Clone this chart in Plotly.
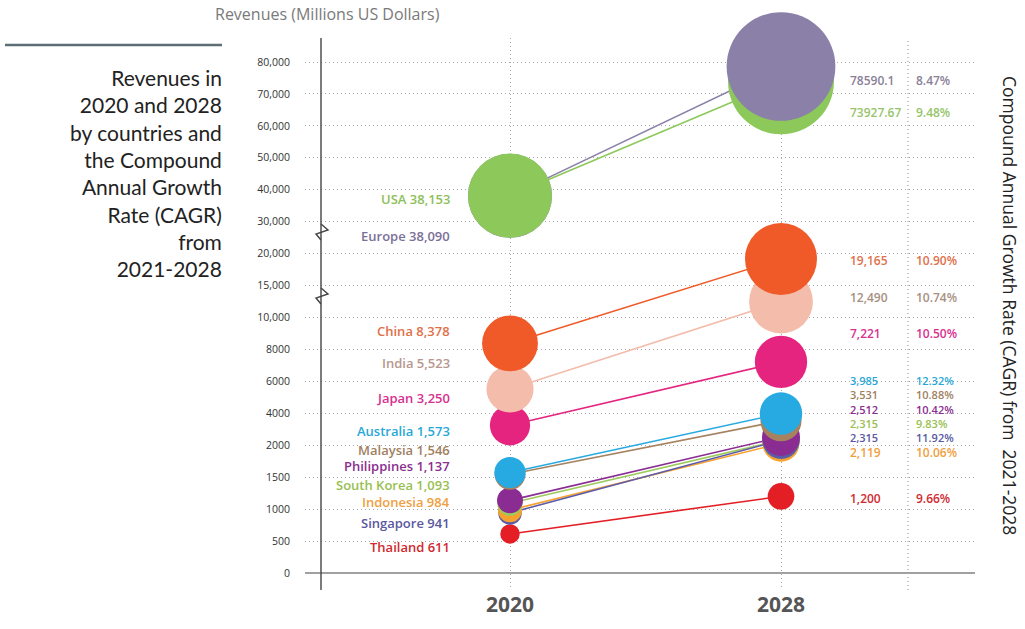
import numpy as np
import plotly.graph_objects as go

# ---------------- data ----------------
countries = ["USA", "Europe", "China", "India", "Japan", "Australia", "Malaysia",
             "Philippines", "South Korea", "Indonesia", "Singapore", "Thailand"]
rev_2020 = [38153, 38090, 8378, 5523, 3250, 1573, 1546, 1137, 1093, 984, 941, 611]
rev_2028 = [73927.67, 78590.1, 19165, 12490, 7221, 3985, 3531, 2512, 2315, 2119, 2315, 1200]
rev_2028_text = ["73927.67", "78590.1", "19,165", "12,490", "7,221", "3,985", "3,531",
                 "2,512", "2,315", "2,119", "2,315", "1,200"]
cagr_text = ["9.48%", "8.47%", "10.90%", "10.74%", "10.50%", "12.32%", "10.88%",
             "10.42%", "9.83%", "10.06%", "11.92%", "9.66%"]
years = [2020, 2028]
tick_values = [0, 500, 1000, 1500, 2000, 4000, 6000, 8000, 10000, 15000, 20000,
               30000, 40000, 50000, 60000, 70000, 80000]
tick_labels = ["0", "500", "1000", "1500", "2000", "4000", "6000", "8000", "10,000",
               "15,000", "20,000", "30,000", "40,000", "50,000", "60,000", "70,000", "80,000"]

# ---------------- styles ----------------
bubble_colors = ["#8CC85A", "#8A80A8", "#F05A28", "#F3BCAB", "#E5247F", "#27A9E1",
                 "#A6825F", "#8B2C93", "#9CCB5C", "#F7A12F", "#5C5BA8", "#E31E25"]
text_colors = ["#8DC05A", "#7A7098", "#E0704A", "#B8978E", "#D8308F", "#28A8D8",
               "#A08060", "#8A2E90", "#98C050", "#F0A040", "#5A58A0", "#D02A30"]
right_text_colors = ["#96C46A", "#8A8098", "#E0704A", "#A89080", "#D8308F", "#28A8D8",
                     "#A08060", "#8A2E90", "#98C050", "#F0A040", "#5A58A0", "#D02A30"]
left_label_py = [199, 236, 331, 363, 398, 431, 450, 466, 485, 502, 523, 547]
right_label_py = [112, 80, 260, 297, 333, None, None, None, None, 452, None, 498]
cluster_order = [5, 6, 7, 8, 10]      # rows stacked tightly in one text block
cluster_center_py = 409
GRID = "#a8a8a8"
DOTS = "1px,3px"

W, H = 1025, 629
L, R, T, B = 305, 975, 38, 590
Y0_PX, Y16_PX = 573, 62
unit = (Y0_PX - Y16_PX) / 16.0
x_per_year = (781 - 510) / 8.0

def px_x(p):
    return (p - L) / (R - L)

def px_y(p):
    return (B - p) / (B - T)

tick_pos = list(range(len(tick_values)))

def pos(v):
    return float(np.interp(v, tick_values, tick_pos))

def bubble_size(v):
    return 12 + 6.1 * pos(v)

fig = go.Figure()

# connecting lines
for i, c in enumerate(countries):
    fig.add_trace(go.Scatter(
        x=years, y=[pos(rev_2020[i]), pos(rev_2028[i])], mode="lines",
        line=dict(color=bubble_colors[i], width=1.6), hoverinfo="skip", showlegend=False))

# bubbles, smaller values drawn first so larger ones sit on top
for yr, vals in ((2020, rev_2020), (2028, rev_2028)):
    order = sorted(range(len(countries)), key=lambda k: vals[k])
    fig.add_trace(go.Scatter(
        x=[yr] * len(order), y=[pos(vals[k]) for k in order], mode="markers",
        marker=dict(size=[bubble_size(vals[k]) for k in order],
                    color=[bubble_colors[k] for k in order], opacity=1,
                    line=dict(width=0)),
        cliponaxis=False,
        text=[countries[k] for k in order], hoverinfo="text", showlegend=False))

ann = []
lab_font = "Open Sans"
for i, c in enumerate(countries):
    ann.append(dict(x=px_x(452), y=px_y(left_label_py[i]), xref="paper", yref="paper",
                    xanchor="right", yanchor="middle", showarrow=False,
                    text=f"{c} {rev_2020[i]:,}",
                    font=dict(family=lab_font, size=13, color=text_colors[i], weight=600)))
    if right_label_py[i] is None:
        continue
    ann.append(dict(x=px_x(848), y=px_y(right_label_py[i]), xref="paper", yref="paper",
                    xanchor="left", yanchor="middle", showarrow=False,
                    text=rev_2028_text[i],
                    font=dict(family=lab_font, size=12, color=right_text_colors[i], weight=600)))
    ann.append(dict(x=px_x(914), y=px_y(right_label_py[i]), xref="paper", yref="paper",
                    xanchor="left", yanchor="middle", showarrow=False,
                    text=cagr_text[i],
                    font=dict(family=lab_font, size=12, color=right_text_colors[i], weight=600)))

# tightly stacked cluster rows as single multi-line texts
for col_x, texts in ((848, rev_2028_text), (914, cagr_text)):
    block = "<br>".join(f"<span style='color:{right_text_colors[k]}'>{texts[k]}</span>"
                        for k in cluster_order)
    ann.append(dict(x=px_x(col_x), y=px_y(cluster_center_py), xref="paper", yref="paper",
                    xanchor="left", yanchor="middle", align="left", showarrow=False,
                    text=block,
                    font=dict(family=lab_font, size=11, color="#555555", weight=600)))

ann.append(dict(x=px_x(224), y=px_y(173), xref="paper", yref="paper", xanchor="right",
                yanchor="middle", align="right", showarrow=False,
                text="Revenues in<br>2020 and 2028<br>by countries and<br>the Compound<br>"
                     "Annual Growth<br>Rate (CAGR)<br>from<br>2021-2028",
                font=dict(family="Lato", size=21, color="#222222")))
ann.append(dict(x=px_x(327), y=px_y(14), xref="paper", yref="paper", xanchor="center",
                yanchor="middle", showarrow=False, text="Revenues (Millions US Dollars)",
                font=dict(family="Open Sans", size=16, color="#7a7a7a")))
ann.append(dict(x=px_x(1010), y=px_y(305), xref="paper", yref="paper", xanchor="center",
                yanchor="middle", showarrow=False, textangle=90,
                text="Compound Annual Growth Rate (CAGR) from  2021-2028",
                font=dict(family="Open Sans", size=17.5, color="#222222")))

shapes = []
shapes.append(dict(type="line", xref="paper", yref="paper", x0=px_x(5), x1=px_x(222),
                   y0=px_y(45), y1=px_y(45), line=dict(color="#5d6e74", width=2.5)))
# y axis line with break marks
ax_x = 321
shapes.append(dict(type="line", xref="paper", yref="paper", x0=px_x(ax_x), x1=px_x(ax_x),
                   y0=px_y(38), y1=px_y(590), line=dict(color="#444444", width=1.4)))
for by in (232, 296):
    pts = [(ax_x, by - 8), (ax_x + 7, by - 2), (ax_x - 5, by + 2), (ax_x, by + 8)]
    path = "M " + " L ".join(f"{px_x(a):.5f},{px_y(b):.5f}" for a, b in pts)
    shapes.append(dict(type="path", xref="paper", yref="paper", path=path,
                       line=dict(color="#444444", width=1.4)))
# zero baseline
shapes.append(dict(type="line", xref="paper", yref="y", x0=0, x1=1, y0=0, y1=0,
                   line=dict(color="#a0a0a0", width=2), layer="below"))
# separator between value and CAGR columns
shapes.append(dict(type="line", xref="paper", yref="paper", x0=px_x(908), x1=px_x(908),
                   y0=0, y1=1, line=dict(color=GRID, width=1.3, dash=DOTS), layer="below"))

x_lo = 2020 - (510 - L) / x_per_year
x_hi = 2028 + (R - 781) / x_per_year
y_lo = -(B - Y0_PX) / unit
y_hi = 16 + (Y16_PX - T) / unit

fig.update_layout(
    width=W, height=H,
    margin=dict(l=L, r=W - R, t=T, b=H - B),
    paper_bgcolor="white", plot_bgcolor="white",
    annotations=ann, shapes=shapes,
    xaxis=dict(range=[x_lo, x_hi], tickvals=years, ticktext=[str(y) for y in years],
               showgrid=True, gridcolor=GRID, griddash=DOTS, gridwidth=1.3,
               zeroline=False, showline=False, ticks="", ticklabelstandoff=0,
               tickfont=dict(family="Open Sans", size=21, color="#555555", weight="bold")),
    yaxis=dict(range=[y_lo, y_hi], tickvals=tick_pos, ticktext=tick_labels,
               showgrid=True, gridcolor=GRID, griddash=DOTS, gridwidth=1.3,
               zeroline=False, showline=False, ticks="", ticklabelstandoff=14,
               tickfont=dict(family="Open Sans", size=10.5, color="#333333")),
    hovermode="closest",
)

fig.write_html("out.html", config={"displayModeBar": False},
               post_script="document.body.style.margin='0px';document.body.style.overflow='hidden';")
